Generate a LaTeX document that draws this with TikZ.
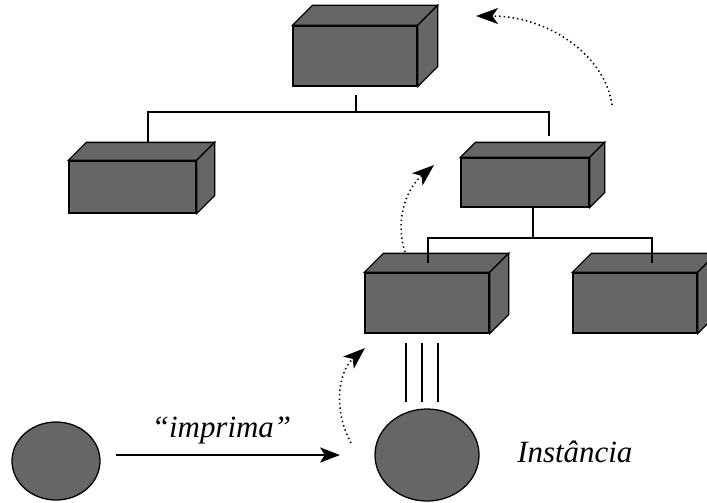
\documentclass[tikz,border=0pt]{standalone}
\usepackage{fontspec}
\setmainfont{Liberation Serif}
\usetikzlibrary{arrows.meta,calc,shapes.geometric}
\definecolor{cinza}{RGB}{102,102,102}

\begin{document}
\begin{tikzpicture}[x=0.025cm, y=-0.025cm,
        caixa/.style={draw, fill=cinza, line width=0.9pt, inner sep=0pt},
        bola/.style={ellipse, draw, fill=cinza, line width=0.9pt, inner sep=0pt},
        fio/.style={line width=0.8pt},
        pulo/.style={line width=1.1pt, dash pattern=on 1pt off 2.2pt,
            -{Stealth[length=0.55cm, width=0.4cm, inset=0.14cm]}},
        rotulo/.style={inner sep=0pt, font=\fontsize{22}{26}\selectfont\itshape}]
        \useasboundingbox (0,0) rectangle (707,502);
        \clip (0,0) rectangle (707,502);

        % Boxes (front faces)
        \node[caixa, minimum width=3.1cm, minimum height=1.5cm] (topo) at (355,56) {};
        \node[caixa, minimum width=3.175cm, minimum height=1.3cm] (esq) at (132.5,187) {};
        \node[caixa, minimum width=3.2cm, minimum height=1.225cm] (dir) at (525,182.5) {};
        \node[caixa, minimum width=3.1cm, minimum height=1.5cm] (meio) at (427,303) {};
        \node[caixa, minimum width=3.1cm, minimum height=1.5cm] (canto) at (635,303) {};

        % Top and side faces
        \foreach \n/\d in {topo/20, esq/18, dir/15, meio/19, canto/19}{
            \draw[caixa] (\n.north west) -- ++(\d,-\d) -- ($(\n.north east)+(\d,-\d)$) -- (\n.north east) -- cycle;
            \draw[caixa] (\n.north east) -- ++(\d,-\d) -- ($(\n.south east)+(\d,-\d)$) -- (\n.south east) -- cycle;
        }

        % Tree, level 1
        \coordinate (t0) at (356,95);
        \coordinate (t1) at (356,112);
        \coordinate (ramoE) at (148,143);
        \coordinate (ramoD) at (549,136);
        \draw[fio] (t0) -- (t1);
        \draw[fio] (ramoE) |- (t1) -| (ramoD);

        % Tree, level 2
        \coordinate (d0) at (533,207);
        \coordinate (d1) at (533,238);
        \coordinate (ramoM) at (428,263);
        \coordinate (ramoC) at (652,263);
        \draw[fio] (d0) -- (d1);
        \draw[fio] (ramoM) |- (d1) -| (ramoC);

        % Objects
        \node[bola, minimum width=2.2cm, minimum height=1.95cm] (emissor) at (56,461) {};
        \node[bola, minimum width=2.6cm, minimum height=2.3cm] (inst) at (427,455) {};

        % Instance link
        \foreach \dx in {-21,-5,11}
            \draw[fio] ($(meio.south)+(\dx,9)$) -- ++(0,59);

        % Message
        \coordinate (envio) at (116,455);
        \coordinate (chegada) at (340,455);
        \draw[fio, -{Stealth[length=0.5cm, width=0.38cm, inset=0.12cm]}] (envio) -- (chegada);
        \node[rotulo, anchor=base] (imprima) at (221.5,437) {“imprima”};
        \node[rotulo, anchor=base west] (nome) at (517,462) {Instância};

        % Lookup arrows
        \coordinate (p1) at (351,443);
        \coordinate (p2) at (365,348);
        \draw[pulo] (p1) .. controls (333,410) and (338,372) .. (p2);
        \coordinate (p3) at (405,252);
        \coordinate (p4) at (434,165);
        \draw[pulo] (p3) .. controls (395,222) and (405,190) .. (p4);
        \coordinate (p5) at (612,105);
        \coordinate (p6) at (476,16);
        \draw[pulo] (p5) .. controls (605,55) and (548,16) .. (p6);

    \end{tikzpicture}
\end{document}
